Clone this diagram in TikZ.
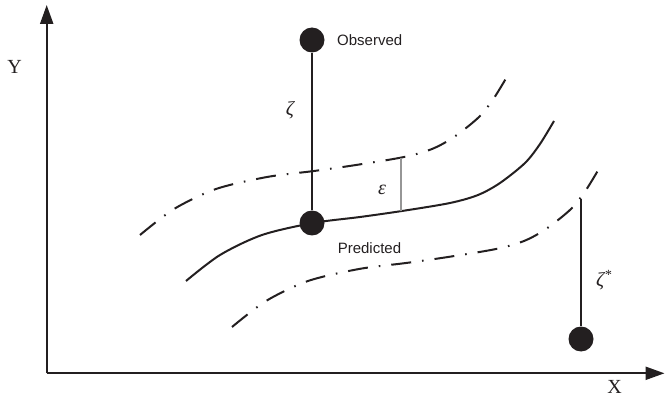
\documentclass[tikz,border=0pt]{standalone}
\usepackage{fontspec}
\setmainfont{Liberation Serif}
\newfontfamily\lsans{Liberation Sans}
\usetikzlibrary{arrows.meta}
\definecolor{ink}{RGB}{35,31,32}
\definecolor{epsgray}{RGB}{150,150,150}
\begin{document}
\begin{tikzpicture}[x=1pt,y=-1pt,
  axis/.style={draw=ink,line width=2.2pt,-{Triangle[length=19pt,width=13pt]}},
  solidcurve/.style={draw=ink,line width=2pt},
  dashdotcurve/.style={draw=ink,line width=2pt,dash pattern=on 20pt off 11pt on 1.6pt off 11pt},
  vline/.style={draw=ink,line width=1.5pt},
  epsline/.style={draw=epsgray,line width=1.5pt},
  dotnode/.style={circle,fill=ink,minimum size=25pt,inner sep=0pt},
  sanslab/.style={font=\lsans\fontsize{15}{15}\selectfont,text=ink,inner sep=0pt},
  greeklab/.style={font=\itshape\fontsize{20}{20}\selectfont,text=ink,inner sep=0pt},
  axislab/.style={font=\fontsize{20}{20}\selectfont,text=ink,inner sep=0pt}]
\useasboundingbox (0,0) rectangle (665,401);
% axes
\coordinate (origin) at (46.7,373.3);
\coordinate (ytip) at (46.7,5);
\coordinate (xtip) at (664.5,373.3);
\draw[axis] (origin) -- (ytip);
\draw[axis] (origin) -- (xtip);
\node[axislab] (ylab) at (14.5,66.5) {Y};
\node[axislab] (xlab) at (614.5,387) {X};
% curves
\draw[solidcurve] plot[smooth] coordinates {(186,281) (220,255) (262,235) (313,223) (360,217) (402,211) (450,203) (478,195) (500,183) (525,163) (540,144) (554,121)};
\begin{scope}[shift={(-46,-46)}]
\draw[dashdotcurve] plot[smooth] coordinates {(186,281) (220,255) (262,235) (313,223) (360,217) (402,211) (450,203) (478,195) (500,183) (525,163) (540,144) (554,121)};
\end{scope}
\begin{scope}[shift={(46,46)}]
\draw[dashdotcurve] plot[smooth] coordinates {(186,281) (220,255) (262,235) (313,223) (360,217) (402,211) (450,203) (478,195) (500,183) (525,163) (540,144) (554,121)};
\end{scope}
% points
\node[dotnode] (obs) at (312,40) {};
\node[dotnode] (pred) at (312,223) {};
\node[dotnode] (outl) at (581,339) {};
\draw[vline] (obs) -- (pred);
\coordinate (epstop) at (401,158.5);
\coordinate (epsbot) at (401,211);
\draw[epsline] (epstop) -- (epsbot);
\coordinate (lowtop) at (581,199);
\draw[vline] (lowtop) -- (outl);
% labels
\node[sanslab,anchor=west] (obslab) at (337,40.5) {Observed};
\node[sanslab] (predlab) at (369.5,248.5) {Predicted};
\node[greeklab] (zlab) at (290,110) {ζ};
\node[greeklab] (elab) at (382,190) {ε};
\node[greeklab] (zslab) at (604,280) {ζ\textsuperscript{*}};
\end{tikzpicture}
\end{document}
